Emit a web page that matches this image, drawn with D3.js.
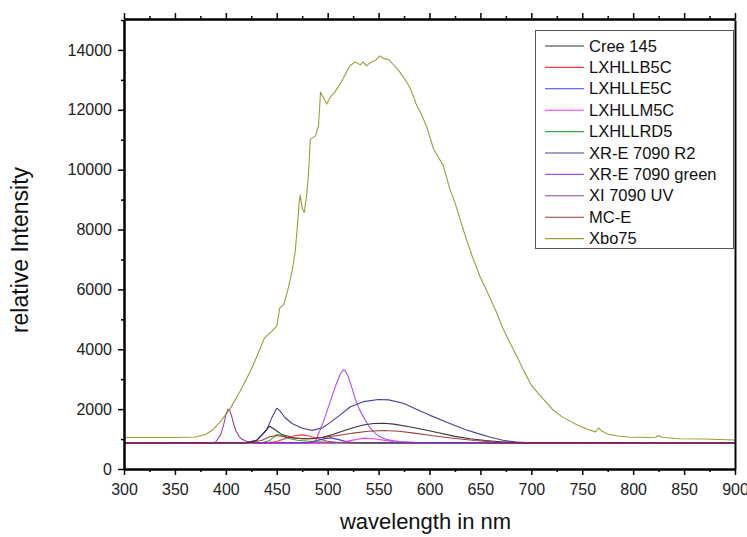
<!DOCTYPE html>
<html><head><meta charset="utf-8">
<script src="https://cdn.jsdelivr.net/npm/d3@7"></script>
<style>
html,body{margin:0;padding:0;background:#fff;}
svg{display:block;font-family:"Liberation Sans",Arial,sans-serif;}
</style></head>
<body><svg id="chart" width="747" height="537"></svg>
<script>
// ---- data (wavelength nm : relative intensity) ----
const seriesNames = ["Cree 145","LXHLLB5C","LXHLLE5C","LXHLLM5C","LXHLLRD5","XR-E 7090 R2","XR-E 7090 green","XI 7090 UV","MC-E","Xbo75"];
const seriesColors = ["#111111","#ff1a1a","#1a1aff","#ff1aff","#1f9a1f","#22228c","#9333ff","#8c1f8c","#8c1f1f","#8c8c14"];
const xTicks = [300,350,400,450,500,550,600,650,700,750,800,850,900];
const yTicks = [0,2000,4000,6000,8000,10000,12000,14000];

const cree145 = [[300,870],[420,880],[430,950],[437,1200],[443,1430],[448,1320],[455,1150],[465,1050],[475,1010],[485,1010],[495,1060],[505,1150],[515,1270],[525,1380],[535,1470],[545,1520],[555,1530],[565,1500],[580,1410],[595,1310],[610,1200],[625,1090],[640,1010],[655,950],[670,910],[690,885],[710,872],[900,870]];
const lxhllb5c = [[300,870],[440,872],[450,920],[460,1040],[468,1120],[475,1140],[482,1100],[490,1010],[500,925],[510,885],[520,872],[900,870]];
const lxhlle5c = [[300,870],[480,878],[490,950],[497,1015],[503,1040],[510,990],[518,920],[525,885],[535,872],[900,870]];
const lxhllm5c = [[300,870],[505,872],[515,900],[525,965],[535,1030],[545,1010],[555,960],[565,910],[580,882],[600,872],[900,870]];
const lxhllrd5 = [[300,870],[435,872],[443,950],[450,1150],[455,1130],[462,1020],[470,960],[480,930],[495,900],[510,880],[525,872],[900,870]];
const xre7090r2 = [[300,870],[420,880],[430,950],[440,1300],[445,1700],[450,2030],[453,1950],[458,1720],[465,1520],[475,1360],[485,1290],[495,1380],[502,1540],[512,1800],[522,2070],[535,2250],[550,2320],[560,2310],[575,2190],[587,2000],[600,1800],[620,1520],[635,1320],[647,1190],[660,1060],[672,960],[685,900],[700,878],[720,872],[900,870]];
const xre7090green = [[300,870],[485,880],[488,950],[492,1250],[496,1600],[500,2000],[504,2400],[508,2800],[512,3150],[515,3310],[517,3300],[520,3100],[523,2800],[527,2350],[531,2000],[535,1750],[540,1450],[545,1250],[550,1100],[558,980],[570,920],[585,890],[600,875],[900,870]];
const xi7090uv = [[300,870],[385,870],[390,900],[395,1150],[398,1500],[400,1800],[402,2000],[404,1950],[406,1720],[408,1470],[410,1270],[413,1090],[416,990],[420,925],[425,885],[432,870],[900,870]];
const mce = [[300,870],[420,872],[435,950],[443,1080],[450,1120],[460,1060],[470,1020],[480,1010],[495,1050],[510,1120],[525,1200],[540,1260],[555,1285],[570,1260],[585,1200],[600,1130],[615,1060],[630,1000],[645,950],[660,912],[680,882],[700,872],[900,870]];
const xbo75 = [[300,1050],[350,1050],[370,1070],[380,1150],[387,1300],[395,1600],[404,2000],[414,2600],[424,3260],[431,3800],[438,4380],[445,4600],[450,4770],[453,5380],[457,5500],[461,6000],[465,6600],[468,7230],[470,8000],[472,8900],[473,9150],[475,8700],[477,8570],[479.5,9180],[481,9790],[483,11020],[488,11130],[491,11460],[493,12590],[496,12400],[499,12190],[503,12450],[507,12590],[511,12800],[515,13030],[519,13300],[522,13470],[527,13600],[532,13500],[535,13600],[538,13470],[543,13600],[547,13650],[551,13800],[556,13700],[560,13680],[564,13530],[571,13260],[577.7,12920],[582,12650],[587.5,12140],[592,11850],[597,11460],[604,10690],[609,10400],[613.6,10130],[620,9350],[625,8900],[630,8340],[636,7700],[642,7100],[650,6400],[657,5900],[666,5220],[672,4700],[679,4220],[686,3750],[692,3320],[700,2800],[706,2550],[714,2250],[721,1980],[730,1750],[738,1600],[745,1470],[755,1330],[763,1240],[766,1370],[770,1250],[775,1170],[785,1100],[795,1070],[815,1050],[822,1060],[825,1120],[828,1060],[845,1010],[870,1000],[900,970]];

const seriesData = [cree145,lxhllb5c,lxhlle5c,lxhllm5c,lxhllrd5,xre7090r2,xre7090green,xi7090uv,mce,xbo75];

// ---- drawing ----
const svg = d3.select("#chart");
const L = 124, R = 735, T = 19, B = 469;
const x = d3.scaleLinear().domain([300,900]).range([L,R]);
const y = d3.scaleLinear().domain([0,15000]).range([B,T+1]);

const plot = svg.append("g");
const line = d3.line().x(d=>x(d[0])).y(d=>y(d[1]));
seriesData.forEach((s,i)=>{
  plot.append("path").datum(s).attr("d",line)
    .attr("fill","none").attr("stroke",seriesColors[i])
    .attr("stroke-width",1.1).attr("stroke-linejoin","round").attr("opacity",0.85);
});

// axes
const xMinor = d3.range(325,900,50);
const yMinor = d3.range(1000,15001,2000);
const axX = d3.axisBottom(x).tickValues(xTicks).tickSize(6).tickSizeOuter(0).tickPadding(9).tickFormat(d3.format("d"));
svg.append("g").attr("transform",`translate(0,${B})`).call(axX);
const axY = d3.axisLeft(y).tickValues(yTicks).tickSize(6).tickSizeOuter(0).tickPadding(6).tickFormat(d3.format("d"));
svg.append("g").attr("transform",`translate(${L},0)`).call(axY);
const axXm = d3.axisBottom(x).tickValues(xMinor).tickSize(3).tickSizeOuter(0).tickFormat("");
svg.append("g").attr("transform",`translate(0,${B})`).call(axXm);
const axYm = d3.axisLeft(y).tickValues(yMinor).tickSize(3).tickSizeOuter(0).tickFormat("");
svg.append("g").attr("transform",`translate(${L},0)`).call(axYm);
// top axis
const axT = d3.axisTop(x).tickValues(xTicks).tickSize(6).tickSizeOuter(0).tickFormat("");
svg.append("g").attr("transform",`translate(0,${T})`).call(axT);
const axTm = d3.axisTop(x).tickValues(xMinor).tickSize(3).tickSizeOuter(0).tickFormat("");
svg.append("g").attr("transform",`translate(0,${T})`).call(axTm);
// right axis line
const axR = d3.axisRight(y).tickValues([]).tickSizeOuter(0);
svg.append("g").attr("transform",`translate(${R},0)`).call(axR);

svg.selectAll(".domain").attr("stroke","#000").attr("stroke-width",2);
svg.selectAll(".tick line").attr("stroke","#000").attr("stroke-width",1.5);
svg.selectAll(".tick text").attr("fill","#222").style("font-size","16px").style("font-family","'Liberation Sans',Arial,sans-serif");

// titles
svg.append("text").attr("x",(L+R)/2 - 4).attr("y",529).attr("text-anchor","middle")
  .style("font-size","22px").attr("fill","#111").text("wavelength in nm");
svg.append("text").attr("transform",`translate(28,250) rotate(-90)`).attr("text-anchor","middle")
  .style("font-size","23px").attr("fill","#111").text("relative Intensity");

// legend
const lg = svg.append("g");
lg.append("rect").attr("x",535.5).attr("y",30.5).attr("width",198).attr("height",218)
  .attr("fill","#fff").attr("stroke","#555").attr("stroke-width",1);
seriesNames.forEach((n,i)=>{
  const yy = 46 + i*21.4;
  lg.append("line").attr("x1",545).attr("x2",584).attr("y1",yy).attr("y2",yy)
    .attr("stroke",seriesColors[i]).attr("stroke-width",1.1).attr("opacity",0.85);
  lg.append("text").attr("x",589).attr("y",yy+5.5).style("font-size","16.5px").attr("fill","#111").text(n);
});
</script></body></html>
